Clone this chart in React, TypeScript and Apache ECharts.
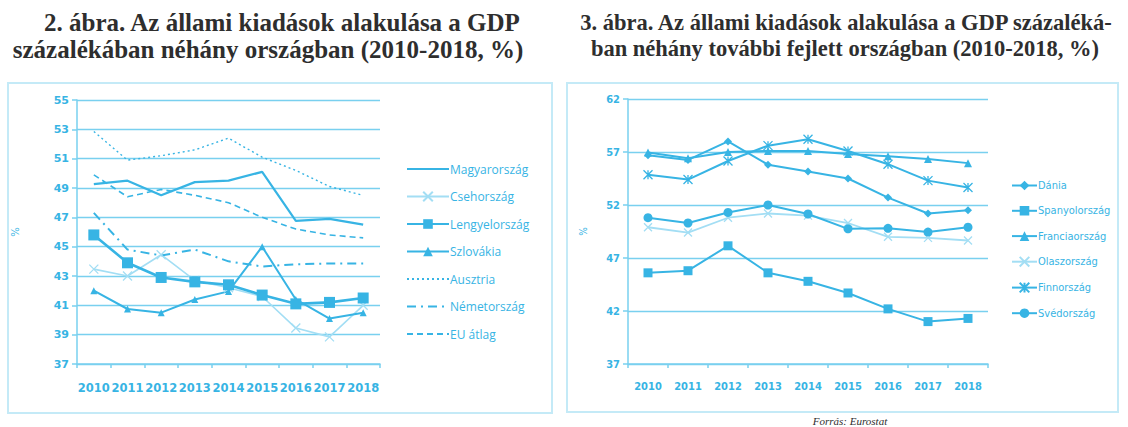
import React, { useEffect, useRef } from "react";
import * as echarts from "echarts";

const years = ["2010", "2011", "2012", "2013", "2014", "2015", "2016", "2017", "2018"];

// Chart 2 (left)
const magyarorszag = [49.26, 49.5, 48.5, 49.4, 49.5, 50.1, 46.76, 46.9, 46.5];
const csehorszag = [43.47, 43.0, 44.45, 42.7, 42.2, 41.6, 39.45, 38.85, 41.0];
const lengyelorszag = [45.8, 43.9, 42.9, 42.6, 42.4, 41.7, 41.1, 41.2, 41.5];
const szlovakia = [42.0, 40.75, 40.5, 41.4, 41.95, 45.0, 41.4, 40.1, 40.5];
const ausztria = [52.85, 50.9, 51.2, 51.6, 52.4, 51.1, 50.2, 49.1, 48.5];
const nemetorszag = [47.3, 44.8, 44.4, 44.8, 44.0, 43.65, 43.8, 43.85, 43.85];
const euAtlag = [49.9, 48.4, 48.9, 48.5, 48.0, 47.0, 46.2, 45.8, 45.6];

// Chart 3 (right)
const dania = [56.7, 56.25, 58.0, 55.8, 55.15, 54.5, 52.7, 51.2, 51.5];
const spanyolorszag = [45.6, 45.8, 48.15, 45.6, 44.8, 43.7, 42.2, 41.0, 41.3];
const franciaorszag = [56.95, 56.4, 57.0, 57.1, 57.1, 56.8, 56.6, 56.35, 55.95];
const olaszorszag = [49.9, 49.4, 50.8, 51.2, 51.0, 50.3, 49.0, 48.9, 48.65];
const finnorszag = [54.85, 54.4, 56.15, 57.6, 58.2, 57.1, 55.85, 54.3, 53.65];
const svedorszag = [50.8, 50.3, 51.3, 52.0, 51.15, 49.75, 49.8, 49.45, 49.9];

const title2Lines = ["2. ábra. Az állami kiadások alakulása a GDP", "százalékában néhány országban (2010-2018, %)"];
const title3Lines = ["3. ábra. Az állami kiadások alakulása a GDP százaléká-", "ban néhány további fejlett országban (2010-2018, %)"];
const sourceText = "Forrás: Eurostat";

const C = "#37b4e4";
const LIGHT = "#a3def4";
const GRID = "#79d0ef";
const BOX = "#c4eaf7";
const XSYM = "path://M0,0L10,10M0,10L10,0";
const ASTSYM = "path://M0,0L10,10M0,10L10,0M5,0L5,10";
const NOSYM = "path://M0,0L10,0L10,10L0,10Z";

export default function App() {
  const ref = useRef<HTMLDivElement>(null);
  useEffect(() => {
    if (!ref.current) return;
    const chart = echarts.init(ref.current, undefined, { renderer: "svg" });

    const line = (name: string, data: number[], idx: number, opts: any = {}) => ({
      name,
      type: "line",
      xAxisIndex: idx,
      yAxisIndex: idx,
      data,
      symbol: opts.symbol ?? NOSYM,
      symbolSize: opts.symbolSize ?? 7,
      showSymbol: opts.symbol ? true : false,
      color: opts.color ?? C,
      lineStyle: { color: opts.color ?? C, width: opts.width ?? 2, type: opts.type ?? "solid" },
      itemStyle: opts.stroke
        ? { color: "rgba(0,0,0,0)", borderColor: opts.color ?? C, borderWidth: 1.3 }
        : opts.symbol
        ? { color: opts.color ?? C }
        : { color: "rgba(0,0,0,0)", borderWidth: 0 },
      emphasis: { disabled: true },
    });

    const yAxisCommon = (min: number, max: number, interval: number, gridIndex: number, font: string, nameGap: number) => ({
      type: "value",
      gridIndex,
      min,
      max,
      interval,
      name: "%",
      nameLocation: "middle",
      nameRotate: 90,
      nameGap,
      nameTextStyle: { color: C, fontSize: 10, fontFamily: font },
      axisLine: { show: true, lineStyle: { color: GRID, width: 1.5 } },
      axisTick: { show: true, length: 5, lineStyle: { color: GRID, width: 1.5 } },
      splitLine: { show: true, lineStyle: { color: GRID, width: 1.3 } },
      axisLabel: { color: C, fontSize: 11, fontFamily: font, fontWeight: "bold", margin: 8 },
    });

    const xAxisCommon = (gridIndex: number, font: string, size: number, margin: number) => ({
      type: "category",
      gridIndex,
      data: years,
      boundaryGap: true,
      axisLine: { show: true, lineStyle: { color: GRID, width: 1.5 } },
      axisTick: { show: true, length: 4, alignWithLabel: false, lineStyle: { color: GRID, width: 1.5 } },
      axisLabel: { color: C, fontSize: size, fontFamily: font, fontWeight: "bold", margin, interval: 0 },
    });

    const leftFont = "'DejaVu Sans', sans-serif";
    const rightFont = "'DejaVu Sans Condensed', 'Liberation Sans Narrow', sans-serif";

    const titleStyle = (x: number, y: number, text: string, size: number) => ({
      type: "text",
      x,
      y,
      style: {
        text,
        fill: "#2e2e2e",
        font: `bold ${size}px 'Liberation Serif', serif`,
        textAlign: "center",
        textVerticalAlign: "middle",
      },
    });

    chart.setOption({
      animation: false,
      backgroundColor: "#ffffff",
      grid: [
        { left: 77, top: 100, width: 303, height: 264 },
        { left: 628, top: 99, width: 360, height: 265 },
      ],
      xAxis: [xAxisCommon(0, leftFont, 11.5, 18), xAxisCommon(1, rightFont, 11, 17)],
      yAxis: [
        yAxisCommon(37, 55, 2, 0, leftFont, 57),
        yAxisCommon(37, 62, 5, 1, rightFont, 40),
      ],
      legend: [
        {
          orient: "vertical",
          left: 401,
          top: 158,
          itemWidth: 42,
          itemHeight: 12,
          itemGap: 15.5,
          textStyle: { color: C, fontSize: 12, fontFamily: "'Open Sans', sans-serif", padding: [0, 0, 0, -4] },
          data: ["Magyarország", "Csehország", "Lengyelország", "Szlovákia", "Ausztria", "Németország", "EU átlag"],
          selectedMode: false,
        },
        {
          orient: "vertical",
          left: 1006,
          top: 175,
          itemWidth: 25,
          itemHeight: 12,
          itemGap: 14.3,
          textStyle: { color: C, fontSize: 11, fontFamily: rightFont, padding: [0, 0, 0, -4] },
          data: ["Dánia", "Spanyolország", "Franciaország", "Olaszország", "Finnország", "Svédország"],
          selectedMode: false,
        },
      ],
      graphic: [
        { type: "rect", shape: { x: 8, y: 83, width: 544, height: 330 }, style: { fill: "none", stroke: BOX, lineWidth: 2 }, silent: true },
        { type: "rect", shape: { x: 567, y: 83, width: 551, height: 329 }, style: { fill: "none", stroke: BOX, lineWidth: 2 }, silent: true },
        titleStyle(282, 22, title2Lines[0], 25),
        titleStyle(268, 49, title2Lines[1], 25),
        titleStyle(846, 22, title3Lines[0], 22.5),
        titleStyle(845, 48, title3Lines[1], 22.5),
        {
          type: "text",
          x: 850,
          y: 415,
          style: { text: sourceText, fill: "#2e2e2e", font: "italic 11px 'Liberation Serif', serif", textAlign: "center", textVerticalAlign: "top" },
        },
      ],
      series: [
        line("Magyarország", magyarorszag, 0, { width: 2.2 }),
        line("Csehország", csehorszag, 0, { color: LIGHT, symbol: XSYM, symbolSize: 9, stroke: true, width: 1.6 }),
        line("Lengyelország", lengyelorszag, 0, { symbol: "rect", symbolSize: 11, width: 2.6 }),
        line("Szlovákia", szlovakia, 0, { symbol: "triangle", symbolSize: 7, width: 2 }),
        line("Ausztria", ausztria, 0, { type: [2, 3], width: 1.4 }),
        line("Németország", nemetorszag, 0, { type: [9, 5, 2, 5], width: 2 }),
        line("EU átlag", euAtlag, 0, { type: [6, 4], width: 1.6 }),
        line("Dánia", dania, 1, { symbol: "diamond", symbolSize: 8, width: 2 }),
        line("Spanyolország", spanyolorszag, 1, { symbol: "rect", symbolSize: 9, width: 2 }),
        line("Franciaország", franciaorszag, 1, { symbol: "triangle", symbolSize: 8, width: 2 }),
        line("Olaszország", olaszorszag, 1, { color: LIGHT, symbol: XSYM, symbolSize: 8, stroke: true, width: 1.8 }),
        line("Finnország", finnorszag, 1, { symbol: ASTSYM, symbolSize: 9, stroke: true, width: 2 }),
        line("Svédország", svedorszag, 1, { symbol: "circle", symbolSize: 9, width: 2 }),
      ],
    });
    return () => chart.dispose();
  }, []);

  return (
    <div
      ref={ref}
      style={{ position: "fixed", left: 0, top: 0, width: 1128, height: 427, background: "#fff" }}
    />
  );
}
